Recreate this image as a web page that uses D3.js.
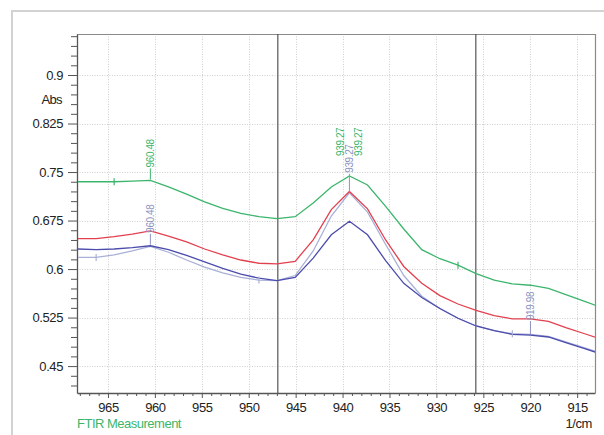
<!DOCTYPE html>
<html>
<head>
<meta charset="utf-8">
<script src="https://cdn.jsdelivr.net/npm/d3@7/dist/d3.min.js"></script>
<style>
  html, body { margin: 0; padding: 0; background: #fff; }
  svg { display: block; font-family: "Liberation Sans", Arial, sans-serif; }
  .tick text { font-size: 13px; fill: #222; letter-spacing: -0.4px; }
</style>
</head>
<body>
<svg id="chart" width="604" height="435"></svg>
<script>
// ── Data ──────────────────────────────────────────────────────────────────────
const wn = [968.19, 966.26, 964.34, 962.41, 960.48, 958.55, 956.62, 954.70, 952.77, 950.84,
            948.91, 946.98, 945.05, 943.13, 941.20, 939.27, 937.34, 935.41, 933.48, 931.56,
            929.63, 927.70, 925.77, 923.84, 921.91, 919.98, 918.06, 916.13, 914.20, 912.27];

const green = [0.735, 0.735, 0.735, 0.736, 0.737, 0.727, 0.716, 0.704, 0.694, 0.686,
               0.681, 0.678, 0.681, 0.702, 0.727, 0.744, 0.730, 0.697, 0.662, 0.630,
               0.616, 0.606, 0.593, 0.583, 0.577, 0.575, 0.570, 0.560, 0.550, 0.540];
const red   = [0.647, 0.647, 0.650, 0.654, 0.659, 0.651, 0.642, 0.631, 0.622, 0.614,
               0.609, 0.608, 0.612, 0.645, 0.692, 0.720, 0.693, 0.645, 0.604, 0.578,
               0.559, 0.546, 0.536, 0.528, 0.523, 0.523, 0.519, 0.509, 0.500, 0.491];
const blue  = [0.631, 0.630, 0.631, 0.633, 0.636, 0.630, 0.621, 0.611, 0.601, 0.592,
               0.586, 0.582, 0.587, 0.617, 0.653, 0.674, 0.653, 0.613, 0.578, 0.556,
               0.539, 0.524, 0.512, 0.505, 0.499, 0.498, 0.495, 0.486, 0.477, 0.468];
const light = [0.618, 0.618, 0.622, 0.628, 0.635, 0.626, 0.614, 0.603, 0.594, 0.587,
               0.583, 0.582, 0.590, 0.628, 0.682, 0.718, 0.688, 0.638, 0.590, 0.558,
               0.539, 0.524, 0.512, 0.505, 0.500, 0.499, 0.496, 0.487, 0.478, 0.469];

const yTicks = [0.45, 0.525, 0.6, 0.675, 0.75, 0.825, 0.9];
const yTickLabels = ['0.45', '0.525', '0.6', '0.675', '0.75', '0.825', '0.9'];
const xTicks = [965, 960, 955, 950, 945, 940, 935, 930, 925, 920, 915];
const cursors = [946.9, 925.8];

// peak labels: wavenumber, series it sits on, text
const peakWn     = [960.48, 960.48, 939.27, 939.27, 939.27, 919.98];
const peakSeries = ['green', 'blue', 'green', 'green', 'light', 'blue'];
const peakText   = ['960.48', '960.48', '939.27', '939.27', '939.27', '919.98'];

// small tick markers on the curves
const markWn     = [964.34, 927.70, 966.26, 948.91, 921.91];
const markSeries = ['green', 'green', 'light', 'light', 'light'];

// ── Style ─────────────────────────────────────────────────────────────────────
const CLR = { green: '#3cb56c', red: '#e2404e', blue: '#4c4cae', light: '#a9b0d6', lbl: '#8c93c2' };
const SER = { green, red, blue, light };
const M = { l: 77, t: 34, r: 595, b: 393 };
// label layout tweaks [dx, lift]
const peakLayout = [[0, 12], [0, 12], [-9, 19], [9, 19], [0, 19], [0, 14]];

const svg = d3.select('#chart');

// outer frame
svg.append('rect').attr('x', 12).attr('y', 11).attr('width', 610).attr('height', 440)
  .attr('fill', 'none').attr('stroke', '#d2d2d2').attr('stroke-width', 2);

const x = d3.scaleLinear().domain([968.3, 913.1]).range([M.l, M.r]);
const y = d3.scaleLinear().domain([0.4084, 0.9634]).range([M.b, M.t]);

// grid
const grid = svg.append('g').attr('stroke', '#cfcfcf').attr('stroke-width', 1).attr('stroke-dasharray', '1,1.5');
grid.selectAll('.gx').data(xTicks).join('line')
  .attr('x1', d => Math.round(x(d)) + 0.5).attr('x2', d => Math.round(x(d)) + 0.5)
  .attr('y1', M.t).attr('y2', M.b);
grid.selectAll('.gy').data(yTicks).join('line')
  .attr('y1', d => Math.round(y(d)) + 0.5).attr('y2', d => Math.round(y(d)) + 0.5)
  .attr('x1', M.l).attr('x2', M.r);

// plot border (top/right)
svg.append('path')
  .attr('d', `M${M.l},${M.t + 0.5}H${M.r + 0.5}V${M.b}`)
  .attr('fill', 'none').attr('stroke', '#8a8a8a').attr('stroke-width', 1.2);

// cursors
svg.append('g').selectAll('line').data(cursors).join('line')
  .attr('x1', d => x(d)).attr('x2', d => x(d)).attr('y1', M.t).attr('y2', M.b)
  .attr('stroke', '#555').attr('stroke-width', 1.2);

// axes
const yMinor = d3.range(0.42, 0.961, 0.015).filter(v => !yTicks.some(t => Math.abs(t - v) < 1e-6));
const xMinor = d3.range(914, 969, 1).filter(v => v % 5 !== 0);

const gy = svg.append('g').attr('transform', `translate(${M.l},0)`);
gy.call(d3.axisLeft(y).tickValues(yMinor).tickSize(6).tickFormat('').tickSizeOuter(0));
gy.call(g => g.select('.domain').remove());
const gy2 = svg.append('g').attr('transform', `translate(${M.l},0)`);
gy2.call(d3.axisLeft(y).tickValues(yTicks).tickSize(9).tickPadding(5).tickSizeOuter(0)
  .tickFormat((d, i) => yTickLabels[i]));

const gx = svg.append('g').attr('transform', `translate(0,${M.b})`);
gx.call(d3.axisBottom(x).tickValues(xMinor).tickSize(3).tickFormat('').tickSizeOuter(0));
gx.call(g => g.select('.domain').remove());
const gx2 = svg.append('g').attr('transform', `translate(0,${M.b})`);
gx2.call(d3.axisBottom(x).tickValues(xTicks).tickSize(5).tickPadding(5).tickSizeOuter(0)
  .tickFormat(d3.format('d')));

svg.selectAll('.domain').attr('stroke', '#555').attr('stroke-width', 1.3);
svg.selectAll('.tick line').attr('stroke', '#555');

// axis titles
svg.append('text').attr('x', 62).attr('y', 104).attr('text-anchor', 'end')
  .attr('font-size', 13).attr('letter-spacing', -0.6).attr('fill', '#222').text('Abs');
svg.append('text').attr('x', 592).attr('y', 428).attr('text-anchor', 'end')
  .attr('font-size', 13).attr('letter-spacing', -0.4).attr('fill', '#222').text('1/cm');
svg.append('text').attr('x', 77).attr('y', 428)
  .attr('font-size', 13).attr('letter-spacing', -0.5).attr('fill', CLR.green).text('FTIR Measurement');

// curves
const clip = svg.append('clipPath').attr('id', 'clip').append('rect')
  .attr('x', M.l).attr('y', M.t).attr('width', M.r - M.l).attr('height', M.b - M.t);
const line = d3.line().x((d, i) => x(wn[i])).y(d => y(d));
const gl = svg.append('g').attr('clip-path', 'url(#clip)');
['light', 'blue', 'red', 'green'].forEach(k => {
  gl.append('path').datum(SER[k]).attr('d', line)
    .attr('fill', 'none').attr('stroke', CLR[k]).attr('stroke-width', 1.3);
});

// markers
gl.selectAll('.mk').data(markWn).join('line')
  .attr('x1', d => x(d)).attr('x2', d => x(d))
  .attr('y1', (d, i) => y(SER[markSeries[i]][wn.indexOf(d)]) - 3.5)
  .attr('y2', (d, i) => y(SER[markSeries[i]][wn.indexOf(d)]) + 3.5)
  .attr('stroke', (d, i) => CLR[markSeries[i]]).attr('stroke-width', 1.2);

// peak labels
const gp = svg.append('g');
peakWn.forEach((v, i) => {
  const k = peakSeries[i];
  const col = (i === 1 || i === 4 || i === 5) ? CLR.lbl : CLR.green;
  const px = x(v), py = y(SER[k][wn.indexOf(v)]);
  const [dx, lift] = peakLayout[i];
  if (dx === 0) {
    gp.append('line').attr('x1', px).attr('x2', px).attr('y1', py - 1).attr('y2', py - lift)
      .attr('stroke', col).attr('stroke-width', 1);
  }
  gp.append('text')
    .attr('transform', `translate(${px + dx + 3.5},${py - lift - 1}) rotate(-90)`)
    .attr('font-size', 10).attr('letter-spacing', -0.4).attr('fill', col)
    .text(peakText[i]);
});
</script>
</body>
</html>
